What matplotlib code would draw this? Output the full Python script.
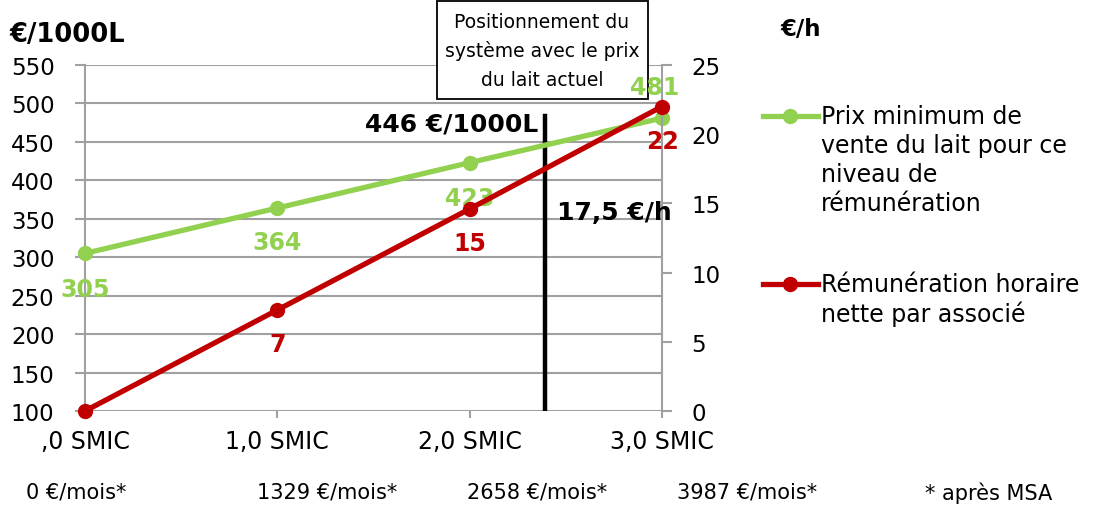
import matplotlib
matplotlib.use("Agg")
import matplotlib.pyplot as plt
from matplotlib.lines import Line2D
from matplotlib.patches import Rectangle

# ---- data ----
categories = [",0 SMIC", "1,0 SMIC", "2,0 SMIC", "3,0 SMIC"]
x_pos = [0, 1, 2, 3]
prix_min = [305, 364, 423, 481]            # €/1000L (left axis)
remuneration = [0, 7.3, 14.6, 22]          # €/h (right axis)
prix_labels = ["305", "364", "423", "481"]
remu_labels = ["", "7", "15", "22"]
monthly_labels = ["0 €/mois*", "1329 €/mois*", "2658 €/mois*", "3987 €/mois*", "* après MSA"]
current_x = 2.39
current_price = 446
current_wage = 17.5
box_lines = ["Positionnement du", "système avec le prix", "du lait actuel"]
legend_green = ["Prix minimum de", "vente du lait pour ce", "niveau de", "rémunération"]
legend_red = ["Rémunération horaire", "nette par associé"]

GREEN = "#92D050"
RED = "#C00000"
GRID = "#A0A0A0"

plt.rcParams['font.family'] = ['DejaVu Sans']

fig = plt.figure(figsize=(10.98, 5.06), dpi=100)
W, H = 1098, 506
def fx(px): return px / W
def fy(py): return 1 - py / H

ax = fig.add_axes([fx(85), fy(412), fx(662) - fx(85), fy(66) - fy(412)])
ax2 = ax.twinx()

ax.set_xlim(0, 3)
ax.set_ylim(100, 550)
ax.set_yticks(range(100, 551, 50))
ax2.set_ylim(0, 25)
ax2.set_yticks(range(0, 26, 5))
ax.set_xticks(x_pos)
ax.set_xticklabels(categories)

for a in (ax, ax2):
    for s in a.spines.values():
        s.set_visible(False)
    a.tick_params(colors=GRID, labelcolor="black", labelsize=16.5, width=1.5, length=7)
ax.spines['left'].set_visible(True)
ax.spines['left'].set_color(GRID)
ax.spines['left'].set_linewidth(1.5)
ax2.spines['right'].set_visible(True)
ax2.spines['right'].set_color(GRID)
ax2.spines['right'].set_linewidth(1.5)
ax.tick_params(axis='x', pad=8, length=5, labelsize=17)
ax.tick_params(axis='y', pad=15)
ax2.tick_params(axis='y', pad=14)

ax.grid(True, axis='y', color=GRID, linewidth=1.5)
ax.set_axisbelow(True)

# box (covers the grid, under the labels)
ax.add_patch(Rectangle((fx(437), fy(100)), fx(648) - fx(437), fy(2) - fy(100),
                       transform=fig.transFigure, facecolor='white', edgecolor='black',
                       linewidth=1.3, zorder=2.5, clip_on=False))
for ypx, line in zip([22, 51, 81], box_lines):
    ax.text(fx(542), fy(ypx), line, transform=fig.transFigure, ha='center', va='center',
            fontsize=13.5, zorder=2.6)

# current price vertical marker
ax.plot([current_x, current_x], [100, 484], color="black", linewidth=3.2, zorder=3)

ax.plot(x_pos, prix_min, color=GREEN, linewidth=3.8, marker='o', markersize=10,
        clip_on=False, zorder=4)
ax2.plot(x_pos, remuneration, color=RED, linewidth=3.8, marker='o', markersize=10,
         clip_on=False, zorder=5)

green_offsets = [(0, -36), (0, -34), (0, -35), (-7, 31)]
for x, y, lab, off in zip(x_pos, prix_min, prix_labels, green_offsets):
    ax.annotate(lab, (x, y), xytext=off, textcoords='offset pixels', ha='center', va='center',
                color=GREEN, fontsize=17, fontweight='bold', annotation_clip=False, zorder=6)
for x, y, lab in zip(x_pos, remuneration, remu_labels):
    if lab:
        ax2.annotate(lab, (x, y), xytext=(0, -34), textcoords='offset pixels', ha='center',
                     va='center', color=RED, fontsize=17, fontweight='bold',
                     annotation_clip=False, zorder=6)

ax.annotate(f"{current_price} €/1000L", (current_x, current_price), xytext=(-6, 21),
            textcoords='offset pixels', ha='right', va='center',
            fontsize=18, fontweight='bold', color='black', zorder=6)
ax2.annotate(f"{current_wage:.1f}".replace('.', ',') + " €/h", (current_x, current_wage),
             xytext=(12, -43), textcoords='offset pixels', ha='left', va='center',
             fontsize=18, fontweight='bold', color='black', annotation_clip=False, zorder=7)

# axis unit titles
fig.text(fx(9), fy(35), "€/1000L", fontsize=18.5, fontweight='bold', ha='left', va='center')
fig.text(fx(780), fy(30), "€/h", fontsize=16.5, fontweight='bold', ha='left', va='center')

# legend (manual)
for ly, col, lines in [(117, GREEN, legend_green), (285, RED, legend_red)]:
    fig.add_artist(Line2D([fx(763), fx(818)], [fy(ly), fy(ly)], color=col, linewidth=3.8,
                          transform=fig.transFigure))
    fig.add_artist(Line2D([fx(790)], [fy(ly)], color=col, marker='o', markersize=10,
                          transform=fig.transFigure))
    for i, line in enumerate(lines):
        fig.text(fx(821), fy(ly + i * 29), line, ha='left', va='center', fontsize=17)

# monthly labels under axis
for cx, lab in zip([76, 327, 537, 747, 989], monthly_labels):
    fig.text(fx(cx), fy(493), lab, ha='center', va='center', fontsize=15)

fig.savefig("out.png", dpi=100, facecolor='white')
